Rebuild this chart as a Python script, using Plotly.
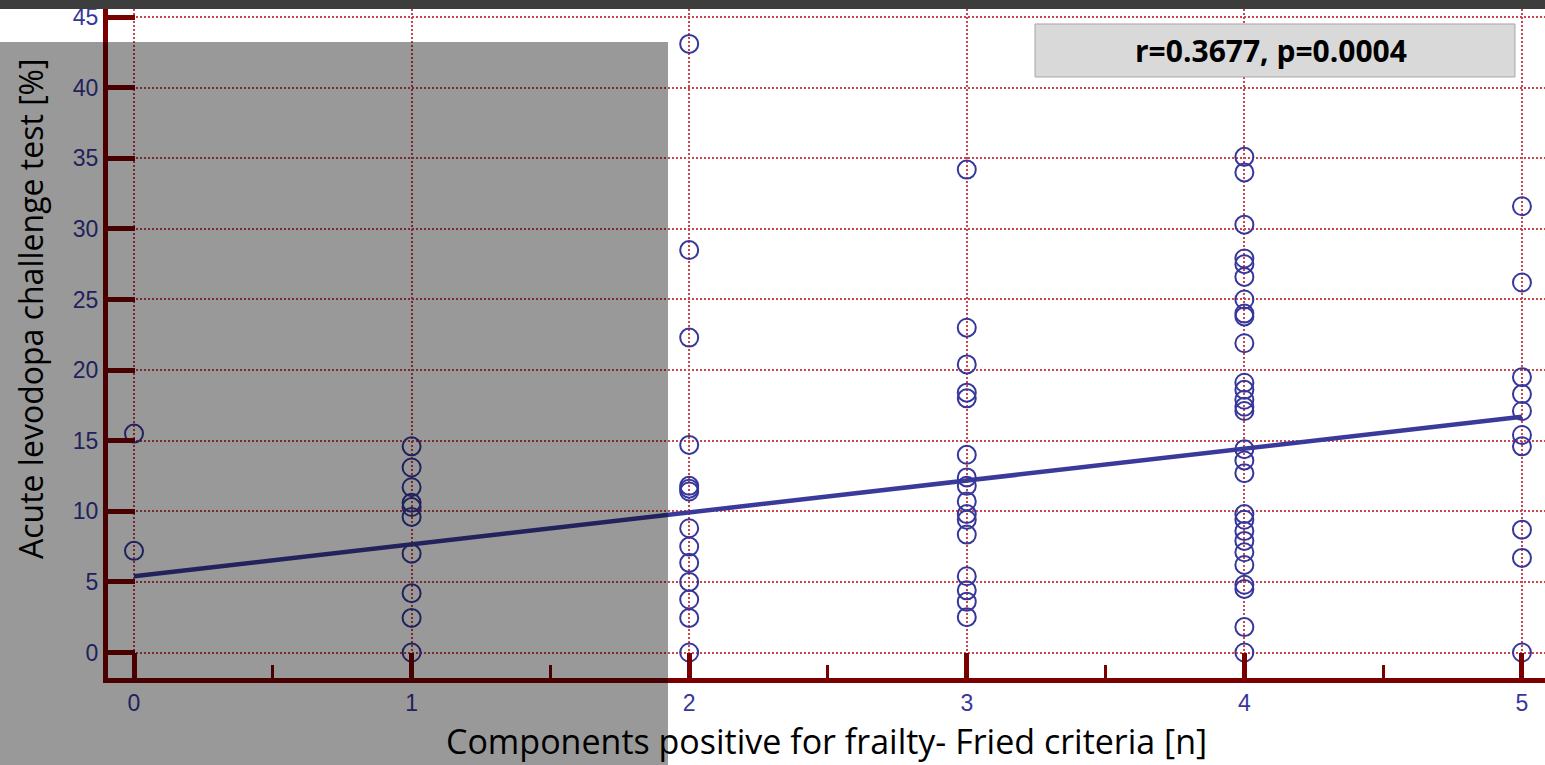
import plotly.graph_objects as go

# ---- data ----
categories = [0, 1, 2, 3, 4, 5]
vals_0 = [15.5, 7.2]
vals_1 = [14.6, 13.1, 11.7, 10.6, 10.3, 9.6, 7.0, 4.2, 2.45, 0.0]
vals_2 = [43.1, 28.5, 22.3, 14.7, 11.8, 11.6, 11.4, 8.8, 7.5, 6.35, 5.0, 3.75, 2.45, 0.0]
vals_3 = [34.2, 23.0, 20.4, 18.4, 18.0, 14.0, 12.4, 11.8, 10.7, 9.8, 9.4, 8.35, 5.4, 4.4, 3.6, 2.5]
vals_4 = [35.1, 34.0, 30.3, 27.9, 27.5, 26.6, 25.0, 24.0, 23.8, 21.9, 19.1, 18.6, 17.9, 17.4,
          17.1, 14.4, 13.6, 12.7, 9.8, 9.4, 8.6, 7.9, 7.1, 6.2, 4.8, 4.5, 1.8, 0.0]
vals_5 = [31.6, 26.2, 19.5, 18.3, 17.1, 15.4, 14.6, 8.7, 6.7, 0.0]
fit_x = [0, 5]
fit_y = [5.4, 16.7]
y_ticks = [0, 5, 10, 15, 20, 25, 30, 35, 40, 45]
x_ticks = [0, 1, 2, 3, 4, 5]
stat_text = "r=0.3677, p=0.0004"
x_title = "Components positive for frailty- Fried criteria [n]"
y_title = "Acute levodopa challenge test [%]"

groups = [vals_0, vals_1, vals_2, vals_3, vals_4, vals_5]
xs, ys = [], []
for c, g in zip(categories, groups):
    xs += [c] * len(g)
    ys += g

MAROON = "rgb(122,0,0)"
BLUE = "rgb(55,55,155)"
GRID = "rgb(200,70,80)"

fig = go.Figure()
fig.add_trace(go.Scatter(
    x=fit_x, y=fit_y, mode="lines",
    line=dict(color="rgb(58,58,155)", width=4.5),
    hoverinfo="skip", showlegend=False))
fig.add_trace(go.Scatter(
    x=xs, y=ys, mode="markers",
    marker=dict(symbol="circle-open", size=18, color=BLUE, line=dict(width=2, color=BLUE)),
    showlegend=False))

fig.update_xaxes(
    range=[-0.0937, 5.083], tickvals=x_ticks, ticktext=[str(v) for v in x_ticks],
    showline=True, linecolor=MAROON, linewidth=5,
    ticks="inside", ticklen=25, tickwidth=5, tickcolor=MAROON,
    minor=dict(dtick=0.5, tick0=0, ticks="inside", ticklen=13, tickwidth=3,
               tickcolor=MAROON, showgrid=False),
    showgrid=True, gridcolor=GRID, gridwidth=1.5, griddash="2px,2px",
    zeroline=False,
    tickfont=dict(family="Liberation Sans, Arial", size=23, color=BLUE),
)
fig.update_yaxes(
    range=[-1.806, 45.57], tickvals=y_ticks, ticktext=[str(v) for v in y_ticks],
    showline=True, linecolor=MAROON, linewidth=5,
    ticks="inside", ticklen=27, tickwidth=5, tickcolor=MAROON,
    showgrid=True, gridcolor=GRID, gridwidth=1.5, griddash="2px,2px",
    zeroline=False,
    tickfont=dict(family="Liberation Sans, Arial", size=23, color=BLUE),
)

fig.update_layout(
    width=1545, height=765,
    margin=dict(l=108, r=0, t=9, b=87),
    plot_bgcolor="white", paper_bgcolor="white",
    hovermode=False,
    shapes=[
        # stats box
        dict(type="rect", xref="paper", yref="paper",
             x0=0.6451, x1=0.9791, y0=0.8984, y1=0.9776,
             fillcolor="rgb(217,217,217)", line=dict(color="rgb(166,166,166)", width=1),
             layer="above"),
        # gray overlay on left
        dict(type="rect", xref="paper", yref="paper",
             x0=-0.0752, x1=0.3897, y0=-0.130, y1=0.9507,
             fillcolor="rgba(0,0,0,0.4)", line=dict(width=0), layer="above"),
        # dark top bar
        dict(type="rect", xref="paper", yref="paper",
             x0=-0.0752, x1=1.0, y0=1.0, y1=1.0135,
             fillcolor="rgb(61,61,61)", line=dict(width=0), layer="above"),
    ],
    annotations=[
        dict(text=stat_text, xref="paper", yref="paper", x=0.8093, y=0.9387,
             xanchor="center", yanchor="middle", showarrow=False,
             font=dict(family="Open Sans", size=30, color="black", weight="bold")),
        dict(text=x_title, xref="paper", yref="paper", x=0.4997, y=-0.094,
             xanchor="center", yanchor="middle", showarrow=False,
             font=dict(family="Open Sans", size=34, color="black")),
        dict(text=y_title, xref="paper", yref="paper", x=-0.0543, y=0.553,
             xanchor="center", yanchor="middle", showarrow=False, textangle=-90,
             font=dict(family="Open Sans", size=32, color="black")),
    ],
)

fig.write_html(
    "out.html",
    config={"displayModeBar": False},
    post_script="document.body.style.margin='0';document.documentElement.style.overflow='hidden';",
)
